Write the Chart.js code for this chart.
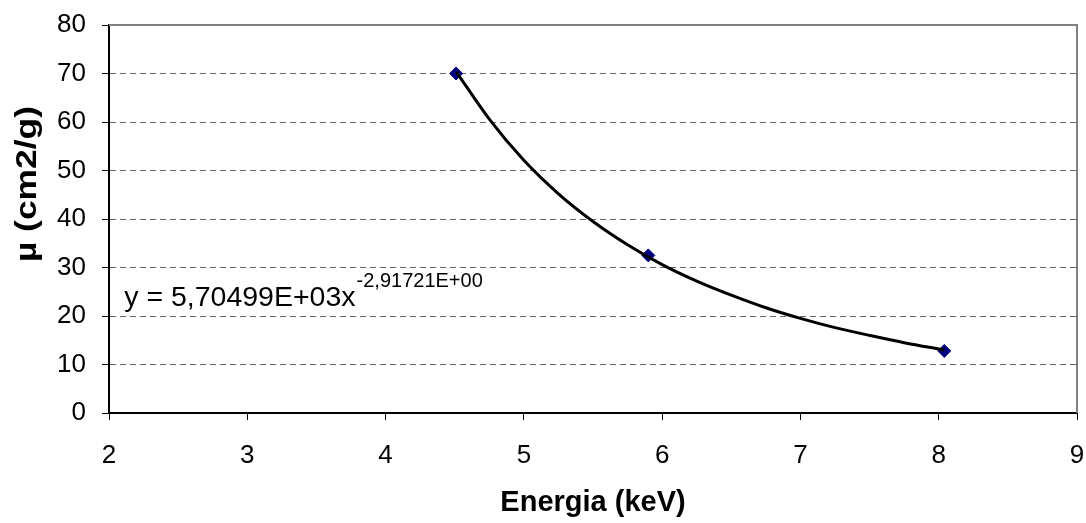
<!DOCTYPE html>
<html>
<head>
<meta charset="utf-8">
<script src="https://cdn.jsdelivr.net/npm/chart.js@4/dist/chart.umd.min.js"></script>
<style>
html,body{margin:0;padding:0;background:#fff;}
#wrap{width:1086px;height:523px;position:relative;}
</style>
</head>
<body>
<div id="wrap"><canvas id="c" width="1086" height="523"></canvas></div>
<script>
// Measured points
const energyKeV = [4.51, 5.90, 8.04];
const muValues = [70.0, 32.5, 12.8];
// Trendline (power fit)
const trendX = [4.51, 4.75, 5.0, 5.25, 5.5, 5.75, 6.0, 6.25, 6.5, 6.75, 7.0, 7.25, 7.5, 7.75, 8.04];
const trendY = [70.4, 60.6, 52.1, 45.2, 39.5, 34.7, 30.6, 27.2, 24.3, 21.7, 19.5, 17.6, 16.0, 14.5, 13.0];
const xTicks = [2, 3, 4, 5, 6, 7, 8, 9];
const yTicks = [0, 10, 20, 30, 40, 50, 60, 70, 80];
const xTitle = 'Energia (keV)';
const yTitle = 'µ (cm2/g)';
const eqMain = 'y = 5,70499E+03x';
const eqSup = '-2,91721E+00';
const eqAnchor = [2.11, 22.1];

const FONT = "'Liberation Sans', Arial, sans-serif";

const borderPlugin = {
  id: 'plotBorder',
  beforeDatasetsDraw(chart) {
    const {ctx, chartArea: a} = chart;
    ctx.save();
    ctx.strokeStyle = '#808080';
    ctx.lineWidth = 2;
    ctx.beginPath();
    ctx.moveTo(a.left, a.top);
    ctx.lineTo(a.right, a.top);
    ctx.lineTo(a.right, a.bottom);
    ctx.stroke();
    ctx.restore();
  },
  afterDatasetsDraw(chart) {
    const {ctx, scales, chartArea: a} = chart;
    const x = scales.x.getPixelForValue(eqAnchor[0]);
    const y = scales.y.getPixelForValue(eqAnchor[1]);
    ctx.save();
    ctx.fillStyle = '#000';
    ctx.textBaseline = 'alphabetic';
    ctx.textAlign = 'left';
    ctx.font = '28.5px ' + FONT;
    ctx.fillText(eqMain, x, y);
    const w = ctx.measureText(eqMain).width;
    ctx.font = '20px ' + FONT;
    ctx.fillText(eqSup, x + w + 1, y - 19);
    ctx.restore();
    // y axis title (stretched along its length like the reference)
    ctx.save();
    ctx.translate(28, a.top + (a.bottom - a.top) * 0.41);
    ctx.rotate(-Math.PI / 2);
    ctx.scale(1.22, 1);
    ctx.font = 'bold 29px ' + FONT;
    ctx.textAlign = 'center';
    ctx.textBaseline = 'middle';
    ctx.fillStyle = '#000';
    ctx.fillText(yTitle, 0, 0);
    ctx.restore();
  }
};

new Chart(document.getElementById('c'), {
  type: 'scatter',
  data: {
    datasets: [
      {
        label: 'trend',
        data: trendX.map((x, i) => ({x, y: trendY[i]})),
        showLine: true,
        borderColor: '#000',
        borderWidth: 3,
        pointRadius: 0,
        tension: 0.4,
        cubicInterpolationMode: 'monotone',
        order: 0
      },
      {
        label: 'µ',
        data: energyKeV.map((x, i) => ({x, y: muValues[i]})),
        pointStyle: 'rectRot',
        pointRadius: 6.5,
        backgroundColor: '#000080',
        borderColor: '#000080',
        borderWidth: 1,
        showLine: false,
        order: 1
      }
    ]
  },
  options: {
    responsive: false,
    animation: false,
    devicePixelRatio: 1,
    layout: {padding: {top: 25, right: 9, left: 0, bottom: 0}},
    plugins: {legend: {display: false}, tooltip: {enabled: false}},
    scales: {
      x: {
        type: 'linear',
        min: 2, max: 9,
        afterBuildTicks(s) { s.ticks = xTicks.map(v => ({value: v})); },
        afterFit(s) { s.height = 110; s.paddingLeft = 0; s.paddingRight = 0; },
        ticks: {color: '#000', font: {family: FONT, size: 26}, padding: 20, maxRotation: 0, autoSkip: false},
        grid: {drawOnChartArea: false, drawTicks: true, tickLength: 7, color: '#000', tickColor: '#000', lineWidth: 1},
        border: {display: true, color: '#000', width: 2},
        title: {display: true, text: xTitle, color: '#000', font: {family: FONT, size: 29, weight: 'bold'}, padding: {top: 0, bottom: 3}}
      },
      y: {
        type: 'linear',
        min: 0, max: 80,
        afterBuildTicks(s) { s.ticks = yTicks.map(v => ({value: v})); },
        afterFit(s) { s.width = 109; s.paddingTop = 0; s.paddingBottom = 0; },
        ticks: {color: '#000', font: {family: FONT, size: 26}, padding: 16, autoSkip: false},
        grid: {
          drawOnChartArea: true, drawTicks: true, tickLength: 7,
          color: (c) => (c.tick && (c.tick.value === 0 || c.tick.value === 80)) ? 'rgba(0,0,0,0)' : '#666',
          tickColor: '#000', lineWidth: 1
        },
        border: {display: true, color: '#000', width: 2, dash: [6, 4]},
        title: {display: false, text: yTitle}
      }
    }
  },
  plugins: [borderPlugin]
});
</script>
</body>
</html>
